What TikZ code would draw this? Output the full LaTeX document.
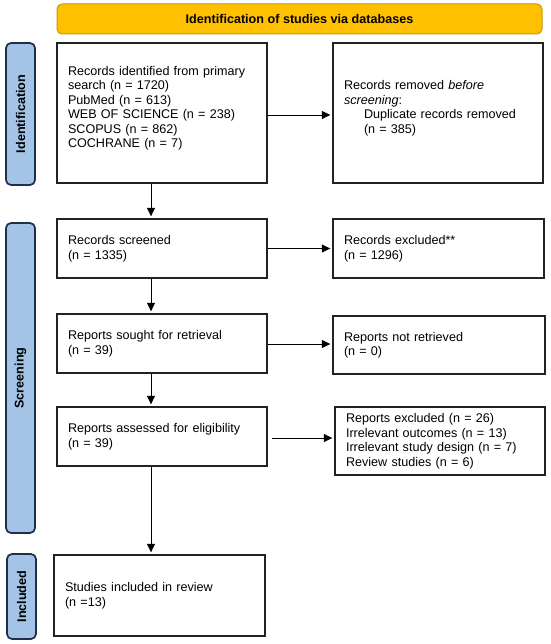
\documentclass[tikz,border=0pt]{standalone}
\usepackage{fontspec}
\setmainfont{Liberation Sans}
\usetikzlibrary{arrows.meta,calc}
\definecolor{bannerfill}{HTML}{FFC000}
\definecolor{bannerline}{HTML}{C99A06}
\definecolor{sidefill}{HTML}{A3C4E6}
\definecolor{sideline}{HTML}{1F2F4A}
\definecolor{boxline}{HTML}{222222}
\begin{document}
\begin{tikzpicture}[x=1pt,y=-1pt,
  every node/.style={font=\fontsize{12.6}{14.5}\selectfont, text=black},
  banner/.style={draw=bannerline, fill=bannerfill, line width=1pt, rounded corners=5pt,
    minimum width=485pt, minimum height=30pt, inner sep=0pt, font=\fontsize{12.6}{14.5}\selectfont\bfseries},
  side/.style={draw=sideline, fill=sidefill, line width=1.7pt, rounded corners=5pt,
    rotate=90, minimum height=29pt, inner sep=0pt, font=\fontsize{12.6}{14.5}\selectfont\bfseries},
  flowbox/.style={draw=boxline, line width=1.4pt, fill=white, inner xsep=11pt, inner ysep=0pt,
    align=left, text width=188pt},
  arr/.style={draw=black, line width=0.8pt, shorten >=2pt, -{Triangle[length=8.5pt,width=8pt]}}]
\useasboundingbox (0,0) rectangle (550,644);

% headers
\node[banner] (ban) at (299.5,19) {Identification of studies via databases};
\node[side, minimum width=142pt] (sid) at (20.5,114) {Identification};
\node[side, minimum width=310pt] (sscr) at (20.5,378) {Screening};
\node[side, minimum width=85pt] (sinc) at (21.5,596.5) {Included};

% boxes
\node[flowbox, minimum height=140pt] (b1) at (162,113)
  {Records identified from primary\\search (n = 1720)\\PubMed (n = 613)\\WEB OF SCIENCE (n = 238)\\SCOPUS (n = 862)\\COCHRANE (n = 7)\\[-2pt]\mbox{}};
\node[flowbox, minimum height=140pt] (b2) at (438,113)
  {Records removed \textit{before}\\\textit{screening}:\\\hspace*{20pt}Duplicate records removed\\\hspace*{20pt}(n = 385)\\[-2pt]\mbox{}};
\node[flowbox, minimum height=59pt] (b3) at (162,248.5) {Records screened\\(n = 1335)};
\node[flowbox, minimum height=59pt, text width=189pt] (b4) at (438.5,248.5) {Records excluded**\\(n = 1296)};
\node[flowbox, minimum height=59pt] (b5) at (162,343.5) {Reports sought for retrieval\\(n = 39)};
\node[flowbox, minimum height=58pt, text width=190pt] (b6) at (439,345) {Reports not retrieved\\(n = 0)};
\node[flowbox, minimum height=59pt] (b7) at (162,436.5) {Reports assessed for eligibility\\(n = 39)};
\node[flowbox, minimum height=68pt] (b8) at (440,441)
  {Reports excluded (n = 26)\\Irrelevant outcomes (n = 13)\\Irrelevant study design (n = 7)\\Review studies (n = 6)};
\node[flowbox, minimum height=81pt, text width=189pt] (b9) at (159.5,595.5) {Studies included in review\\(n =13)};

% connectors
\coordinate (vx) at (151,0);
\draw[arr] (b1.south -| vx) -- (b3.north -| vx);
\draw[arr] (b3.south -| vx) -- (b5.north -| vx);
\draw[arr] (b5.south -| vx) -- (b7.north -| vx);
\draw[arr] (b7.south -| vx) -- (b9.north -| vx);
\coordinate (h1) at (0,115);
\draw[arr] (b1.east |- h1) -- (b2.west |- h1);
\draw[arr] (b3.east) -- (b3.east -| b4.west);
\coordinate (h3) at (0,344);
\draw[arr] (b5.east |- h3) -- (b6.west |- h3);
\coordinate (h4) at (0,438);
\draw[arr, shorten <=4pt] (b7.east |- h4) -- (b8.west |- h4);
\end{tikzpicture}
\end{document}
